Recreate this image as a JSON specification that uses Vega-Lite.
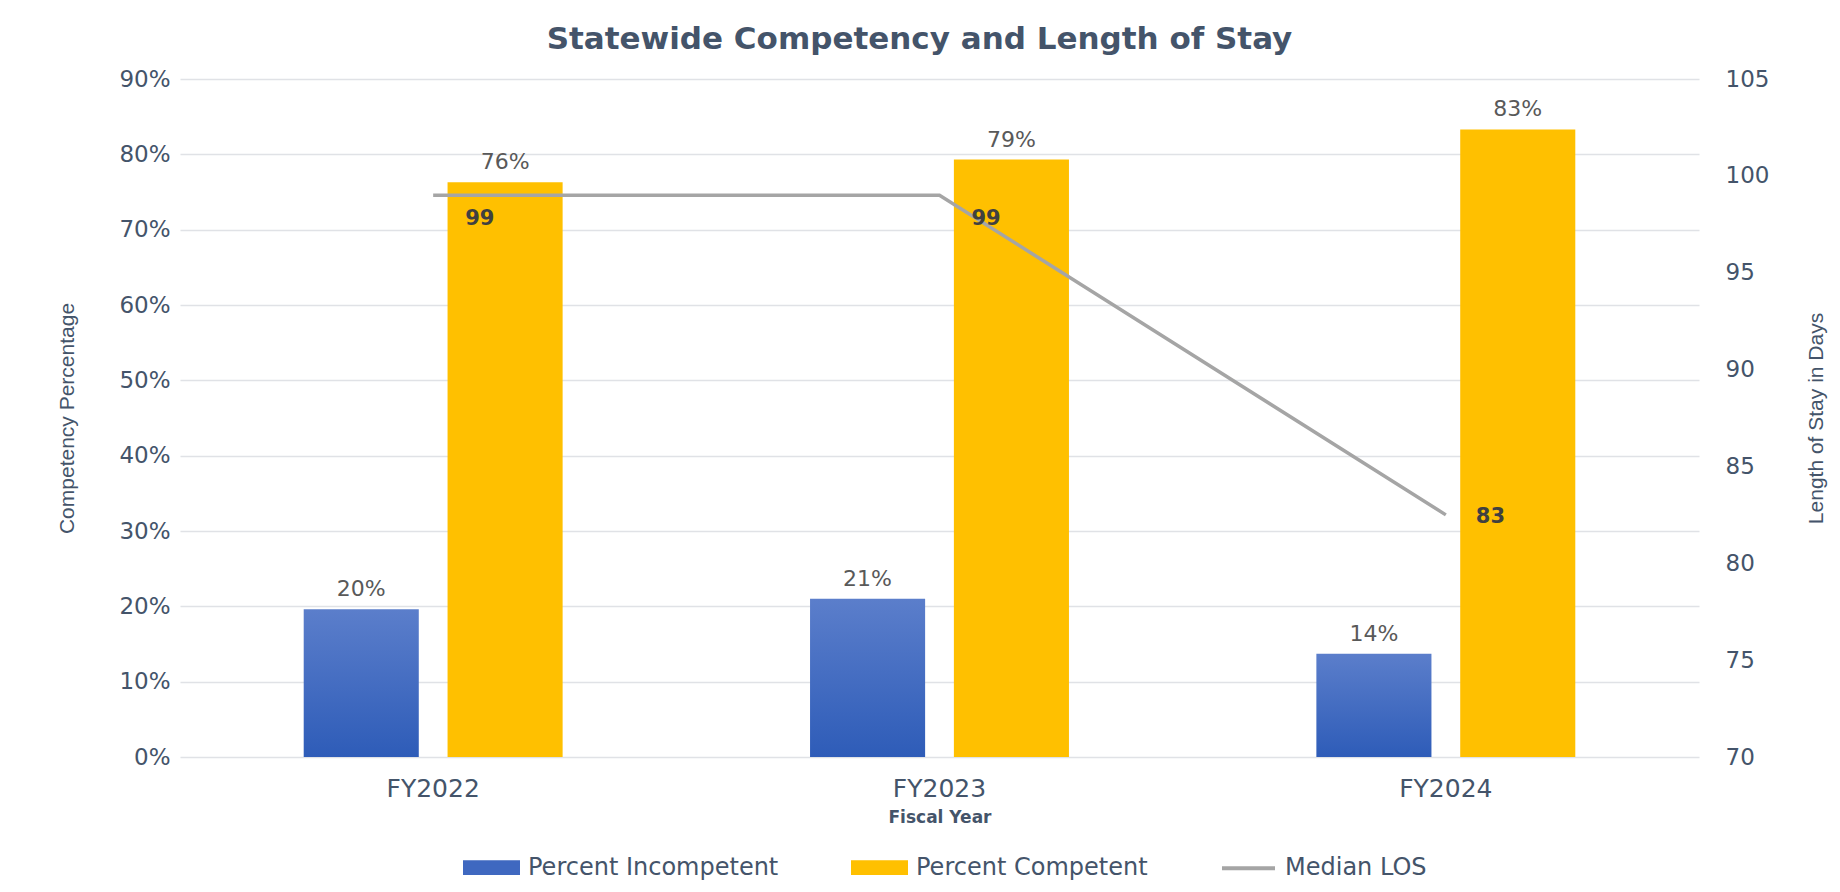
{
  "$schema": "https://vega.github.io/schema/vega-lite/v6.json",
  "autosize": {"type": "none"},
  "width": 1519,
  "height": 678,
  "padding": {"left": 180, "top": 79, "right": 141, "bottom": 135},
  "background": "white",
  "title": {
    "text": "Statewide Competency and Length of Stay",
    "font": "DejaVu Sans",
    "fontSize": 31,
    "fontWeight": "bold",
    "color": "#44546A",
    "anchor": "middle",
    "offset": 12,
    "dx": -20
  },
  "datasets": {
    "bars": [
      {"fy": "FY2022", "series": "Percent Incompetent", "value": 0.196},
      {"fy": "FY2022", "series": "Percent Competent", "value": 0.763},
      {"fy": "FY2023", "series": "Percent Incompetent", "value": 0.21},
      {"fy": "FY2023", "series": "Percent Competent", "value": 0.793},
      {"fy": "FY2024", "series": "Percent Incompetent", "value": 0.137},
      {"fy": "FY2024", "series": "Percent Competent", "value": 0.833}
    ],
    "los": [
      {"fy": "FY2022", "los": 99},
      {"fy": "FY2023", "los": 99},
      {"fy": "FY2024", "los": 82.5}
    ]
  },
  "config": {
    "view": {"stroke": null},
    "axis": {
      "labelFont": "DejaVu Sans",
      "labelColor": "#44546A",
      "titleColor": "#44546A",
      "domain": false,
      "ticks": false
    }
  },
  "layer": [
    {
      "data": {"name": "bars"},
      "layer": [
        {
          "mark": {"type": "bar"},
          "encoding": {
            "x": {
              "field": "fy", "type": "nominal",
              "scale": {"paddingInner": 0, "paddingOuter": 0},
              "axis": {
                "title": "Fiscal Year", "labelAngle": 0, "labelFontSize": 25,
                "labelPadding": 19, "titleFont": "DejaVu Sans", "titleFontSize": 17,
                "titleFontWeight": "bold", "titlePadding": 8
              }
            },
            "xOffset": {
              "field": "series", "type": "nominal",
              "sort": ["Percent Incompetent", "Percent Competent"],
              "scale": {"paddingInner": 0.2, "paddingOuter": 0.86}
            },
            "y": {
              "field": "value", "type": "quantitative",
              "scale": {"domain": [0, 0.9], "nice": false},
              "axis": {
                "values": [0, 0.1, 0.2, 0.3, 0.4, 0.5, 0.6, 0.7, 0.8, 0.9],
                "format": ".0%", "labelFontSize": 23, "labelPadding": 10,
                "grid": true, "gridColor": "#E0E2E6", "gridWidth": 1.5,
                "title": "Competency Percentage",
                "titleFont": "Liberation Sans", "titleFontSize": 21,
                "titleFontWeight": "normal", "titlePadding": 41
              }
            },
            "color": {
              "field": "series", "type": "nominal",
              "condition": {
                "test": "datum.series === 'Percent Incompetent'",
                "value": {
                  "gradient": "linear", "x1": 0, "y1": 0, "x2": 0, "y2": 1,
                  "stops": [
                    {"offset": 0, "color": "#5B7ECB"},
                    {"offset": 1, "color": "#2E5CB8"}
                  ]
                }
              },
              "scale": {
                "domain": ["Percent Incompetent", "Percent Competent", "Median LOS"],
                "range": ["#3F68C0", "#FFC000", "#A5A5A5"]
              },
              "legend": {
                "orient": "none", "legendX": 283, "legendY": 760,
                "direction": "horizontal", "title": null,
                "labelFont": "DejaVu Sans", "labelFontSize": 24, "labelColor": "#44546A",
                "labelLimit": 0,
                "symbolSize": 2809, "labelOffset": 8, "columnPadding": 66,
                "encode": {
                  "symbols": {
                    "update": {
                      "shape": {"signal": "datum.value === 'Median LOS' ? 'stroke' : 'M-1,-0.2H1V0.2H-1Z'"},
                      "fill": {"signal": "datum.value === 'Median LOS' ? 'transparent' : (datum.value === 'Percent Incompetent' ? '#3F68C0' : '#FFC000')"},
                      "stroke": {"signal": "datum.value === 'Median LOS' ? '#A5A5A5' : 'transparent'"},
                      "strokeWidth": {"value": 4},
                      "opacity": {"value": 1}
                    }
                  }
                }
              }
            }
          }
        },
        {
          "mark": {"type": "text", "baseline": "bottom", "dy": -8, "font": "DejaVu Sans", "fontSize": 22, "color": "#595959"},
          "encoding": {
            "x": {"field": "fy", "type": "nominal"},
            "xOffset": {"field": "series", "type": "nominal", "sort": ["Percent Incompetent", "Percent Competent"]},
            "y": {"field": "value", "type": "quantitative"},
            "text": {"field": "value", "type": "quantitative", "format": ".0%"}
          }
        }
      ]
    },
    {
      "data": {"name": "los"},
      "layer": [
        {
          "mark": {"type": "line", "strokeWidth": 3.5},
          "encoding": {
            "x": {"field": "fy", "type": "nominal"},
            "y": {
              "field": "los", "type": "quantitative",
              "scale": {"domain": [70, 105], "nice": false, "zero": false},
              "axis": {
                "orient": "right", "values": [70, 75, 80, 85, 90, 95, 100, 105],
                "labelFontSize": 23, "labelPadding": 26, "grid": false,
                "title": "Length of Stay in Days",
                "titleFont": "Liberation Sans", "titleFontSize": 21,
                "titleFontWeight": "normal",
                "titleAngle": 270, "titlePadding": 58
              }
            },
            "color": {"datum": "Median LOS", "type": "nominal"}
          }
        },
        {
          "transform": [{"filter": "datum.fy !== 'FY2024'"}],
          "mark": {"type": "text", "align": "left", "baseline": "middle", "dx": 32, "dy": 24, "font": "DejaVu Sans", "fontSize": 21, "fontWeight": "bold", "color": "#404040"},
          "encoding": {
            "x": {"field": "fy", "type": "nominal"},
            "y": {"field": "los", "type": "quantitative"},
            "text": {"field": "los", "type": "quantitative", "format": ".0f"}
          }
        },
        {
          "transform": [{"filter": "datum.fy === 'FY2024'"}],
          "mark": {"type": "text", "align": "left", "baseline": "middle", "dx": 30, "dy": 2, "font": "DejaVu Sans", "fontSize": 21, "fontWeight": "bold", "color": "#404040"},
          "encoding": {
            "x": {"field": "fy", "type": "nominal"},
            "y": {"field": "los", "type": "quantitative"},
            "text": {"field": "los", "type": "quantitative", "format": ".0f"}
          }
        }
      ]
    }
  ],
  "resolve": {"scale": {"y": "independent"}}
}
